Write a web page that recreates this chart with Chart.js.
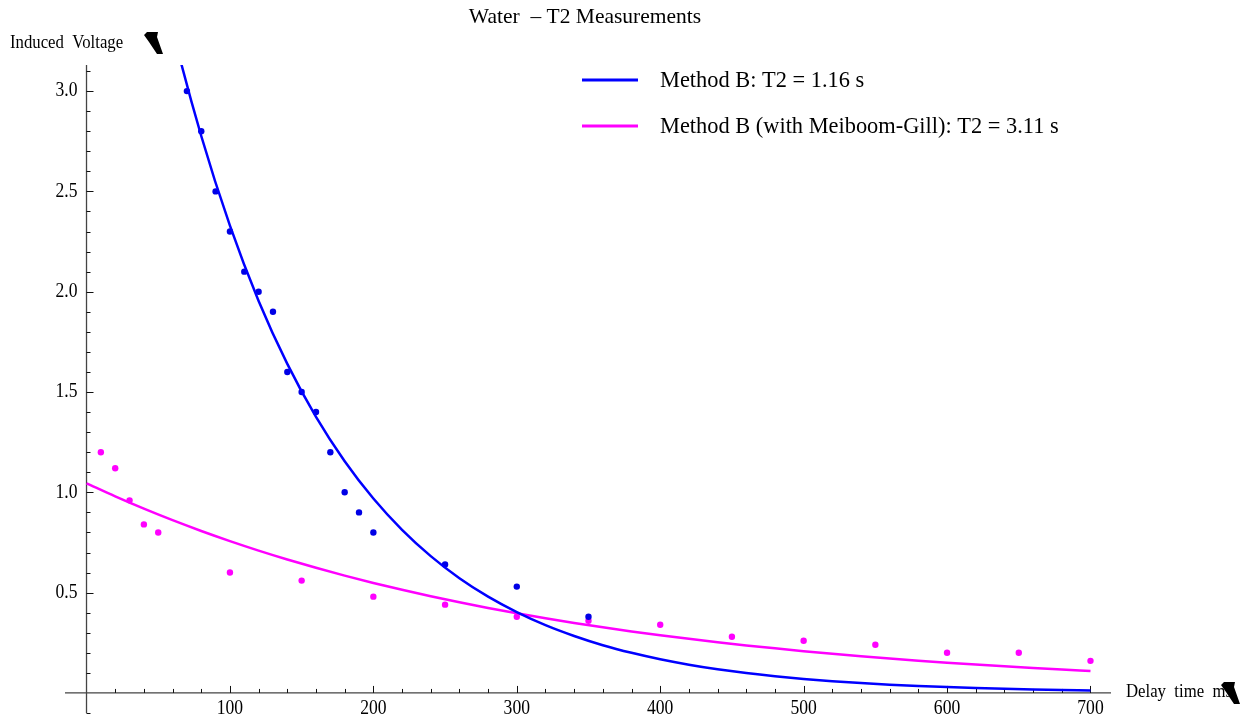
<!DOCTYPE html>
<html>
<head>
<meta charset="utf-8">
<title>Water - T2 Measurements</title>
<script src="https://cdn.jsdelivr.net/npm/chart.js@4/dist/chart.umd.min.js"></script>
<style>
  html, body { margin: 0; padding: 0; background: #fff; }
  #wrap { width: 1248px; height: 720px; }
</style>
</head>
<body>
<div id="wrap"><canvas id="myChart" width="1248" height="720"></canvas></div>
<script>
// measured echo amplitudes (delay time in ms, induced voltage)
const methodB_t = [70, 80, 90, 100, 110, 120, 130, 140, 150, 160, 170, 180, 190, 200, 250, 300, 350];
const methodB_v = [3.0, 2.8, 2.5, 2.3, 2.1, 2.0, 1.9, 1.6, 1.5, 1.4, 1.2, 1.0, 0.9, 0.8, 0.64, 0.53, 0.38];

const meiboom_t = [10, 20, 30, 40, 50, 100, 150, 200, 250, 300, 350, 400, 450, 500, 550, 600, 650, 700];
const meiboom_v = [1.2, 1.12, 0.96, 0.84, 0.80, 0.60, 0.56, 0.48, 0.44, 0.38, 0.36, 0.34, 0.28, 0.26, 0.24, 0.20, 0.20, 0.16];

// fitted decay curves, sampled every 20 ms
const fit_t = [0, 20, 40, 60, 80, 100, 120, 140, 160, 180, 200, 220, 240, 260, 280, 300, 320, 340,
               360, 380, 400, 420, 440, 460, 480, 500, 520, 540, 560, 580, 600, 620, 640, 660, 680, 700];
const methodB_fit = [5.600, 4.699, 3.943, 3.308, 2.776, 2.329, 1.954, 1.640, 1.376, 1.155, 0.969, 0.813,
                     0.682, 0.572, 0.480, 0.403, 0.338, 0.284, 0.238, 0.200, 0.168, 0.141, 0.118, 0.0990,
                     0.0831, 0.0697, 0.0585, 0.0491, 0.0412, 0.0346, 0.0290, 0.0243, 0.0204, 0.0171,
                     0.0144, 0.0121];
const meiboom_fit = [1.045, 0.9797, 0.9185, 0.8611, 0.8073, 0.7569, 0.7096, 0.6653, 0.6237, 0.5848, 0.5482,
                     0.5140, 0.4819, 0.4518, 0.4236, 0.3971, 0.3723, 0.3490, 0.3272, 0.3068, 0.2876, 0.2697,
                     0.2528, 0.2370, 0.2222, 0.2083, 0.1953, 0.1831, 0.1717, 0.1610, 0.1509, 0.1415, 0.1326,
                     0.1243, 0.1166, 0.1093];

const seriesNames = ['Method B: T2 = 1.16 s', 'Method B (with Meiboom-Gill): T2 = 3.11 s'];
const xTickLabels = [100, 200, 300, 400, 500, 600, 700];
const yTickLabels = [0.5, 1.0, 1.5, 2.0, 2.5, 3.0];

const BLUE = '#0000ff';
const MAGENTA = '#ff00ff';
const SERIF = '"Liberation Serif", "Times New Roman", serif';

function pairs(xs, ys) {
    return xs.map((x, i) => ({ x: x, y: ys[i] }));
}

// text with a horizontal squeeze, the labels are narrow and tall
function label(ctx, text, x, y, size, sx, align) {
    ctx.save();
    ctx.font = size + 'px ' + SERIF;
    ctx.textAlign = align;
    ctx.textBaseline = 'middle';
    ctx.translate(x, y);
    ctx.scale(sx, 1);
    ctx.fillText(text, 0, 0);
    ctx.restore();
}

// the little black marks that stand in for the units glyph
function unitGlyph(ctx, x, y) {
    ctx.beginPath();
    ctx.moveTo(x, y + 3);
    ctx.lineTo(x + 3, y);
    ctx.lineTo(x + 14, y);
    ctx.lineTo(x + 13, y + 5);
    ctx.lineTo(x + 19, y + 22);
    ctx.lineTo(x + 13, y + 22);
    ctx.lineTo(x + 5, y + 10);
    ctx.closePath();
    ctx.fillStyle = '#000';
    ctx.fill();
}

const axesPlugin = {
    id: 'mmaAxes',
    beforeDatasetsDraw(chart) {
        const ctx = chart.ctx;
        const area = chart.chartArea;
        const xs = chart.scales.x, ys = chart.scales.y;
        const x0 = xs.getPixelForValue(0);
        const y0 = ys.getPixelForValue(0);
        ctx.save();
        ctx.strokeStyle = '#444';
        ctx.lineWidth = 1.3;
        ctx.beginPath();
        ctx.moveTo(area.left, y0);
        ctx.lineTo(area.right, y0);
        ctx.moveTo(x0, area.top);
        ctx.lineTo(x0, area.bottom);
        ctx.stroke();

        ctx.strokeStyle = '#111';
        ctx.lineWidth = 1;
        ctx.beginPath();
        for (let v = 20; v <= 700; v += 20) {
            const px = Math.round(xs.getPixelForValue(v)) + 0.5;
            const len = v % 100 === 0 ? 7 : 4;
            ctx.moveTo(px, y0);
            ctx.lineTo(px, y0 - len);
        }
        for (let k = -1; k <= 31; k++) {
            if (k === 0) continue;
            const py = Math.round(ys.getPixelForValue(k / 10)) + 0.5;
            const len = k % 5 === 0 ? 7 : 4;
            ctx.moveTo(x0, py);
            ctx.lineTo(x0 + len, py);
        }
        ctx.stroke();

        ctx.fillStyle = '#000';
        xTickLabels.forEach(v => {
            label(ctx, String(v), xs.getPixelForValue(v), y0 + 16, 20, 0.88, 'center');
        });
        yTickLabels.forEach(v => {
            label(ctx, v.toFixed(1), x0 - 9, ys.getPixelForValue(v), 20, 0.88, 'right');
        });
        ctx.restore();
    },
    afterDraw(chart) {
        const ctx = chart.ctx;
        ctx.save();
        ctx.fillStyle = '#000';

        label(ctx, 'Water  \u2013 T2 Measurements', 585, 17, 21.5, 1, 'center');

        label(ctx, 'Induced  Voltage', 10, 43, 18, 0.93, 'left');
        unitGlyph(ctx, 144, 32);

        label(ctx, 'Delay  time  ms', 1126, 692, 18, 0.93, 'left');
        unitGlyph(ctx, 1221, 682);

        // legend
        const legendColors = [BLUE, MAGENTA];
        seriesNames.forEach((name, i) => {
            const y = 80 + i * 46;
            ctx.strokeStyle = legendColors[i];
            ctx.lineWidth = 3;
            ctx.beginPath();
            ctx.moveTo(582, y);
            ctx.lineTo(638, y);
            ctx.stroke();
            ctx.fillStyle = '#000';
            label(ctx, name, 660, y + 1, 22.4, 1, 'left');
        });
        ctx.restore();
    }
};

const ctx = document.getElementById('myChart').getContext('2d');
const myChart = new Chart(ctx, {
    type: 'scatter',
    data: {
        datasets: [
            {
                label: seriesNames[0] + ' fit',
                type: 'line',
                data: pairs(fit_t, methodB_fit),
                borderColor: BLUE,
                borderWidth: 2.5,
                pointRadius: 0,
                cubicInterpolationMode: 'monotone',
                fill: false
            },
            {
                label: seriesNames[1] + ' fit',
                type: 'line',
                data: pairs(fit_t, meiboom_fit),
                borderColor: MAGENTA,
                borderWidth: 2.5,
                pointRadius: 0,
                cubicInterpolationMode: 'monotone',
                fill: false
            },
            {
                label: seriesNames[0],
                data: pairs(methodB_t, methodB_v),
                backgroundColor: '#0000e6',
                borderWidth: 0,
                pointRadius: 3.2
            },
            {
                label: seriesNames[1],
                data: pairs(meiboom_t, meiboom_v),
                backgroundColor: MAGENTA,
                borderWidth: 0,
                pointRadius: 3.2
            }
        ]
    },
    options: {
        responsive: false,
        animation: false,
        devicePixelRatio: 1,
        layout: { padding: { left: 65, right: 137, top: 65, bottom: 7 } },
        plugins: {
            legend: { display: false },
            title: { display: false },
            tooltip: { enabled: false }
        },
        scales: {
            x: { type: 'linear', min: -15, max: 714.3, display: false },
            y: { type: 'linear', min: -0.1, max: 3.13, display: false }
        }
    },
    plugins: [axesPlugin]
});
</script>
</body>
</html>
